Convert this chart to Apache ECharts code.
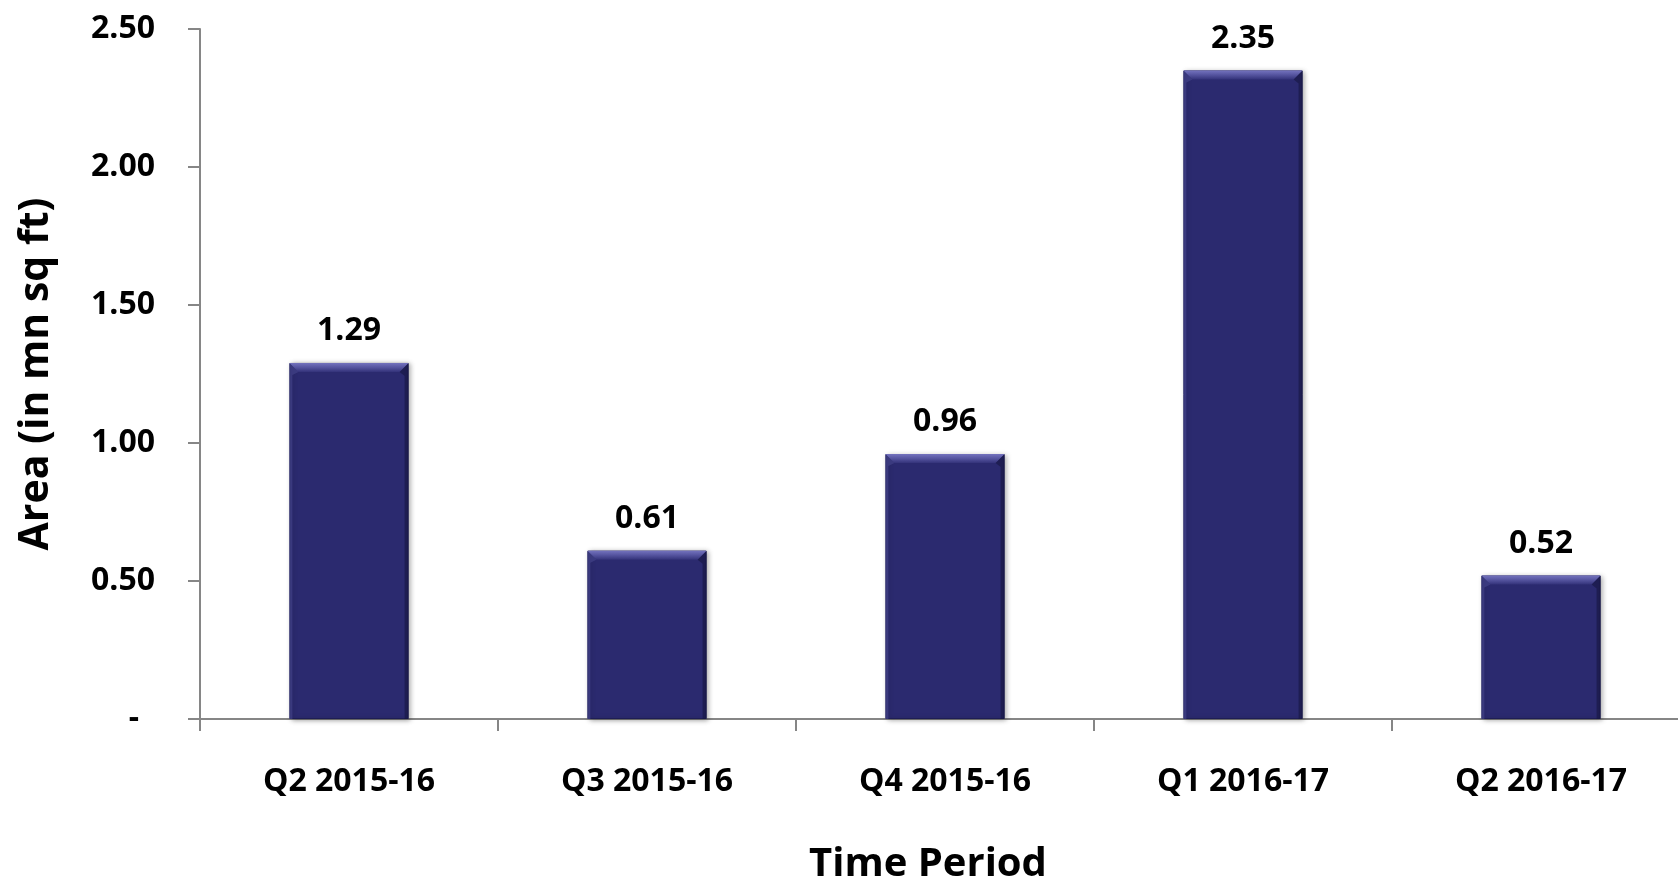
<!DOCTYPE html>
<html>
<head>
<meta charset="utf-8">
<script src="https://cdn.jsdelivr.net/npm/echarts@6/dist/echarts.min.js"></script>
<style>
html,body{margin:0;padding:0;background:#fff;}
#chart{width:1678px;height:882px;}
</style>
</head>
<body>
<div id="chart"></div>
<script>
const categories = ['Q2 2015-16', 'Q3 2015-16', 'Q4 2015-16', 'Q1 2016-17', 'Q2 2016-17'];
const areaValues = [1.29, 0.61, 0.96, 2.35, 0.52];
const yTicks = { min: 0, max: 2.5, interval: 0.5 };
const xTitle = 'Time Period';
const yTitle = 'Area (in mn sq ft)';

const FONT = 'Open Sans';
const BAR_COLOR = '#2B2A6F';
const chart = echarts.init(document.getElementById('chart'));

function renderBevel(params, api) {
  const idx = api.value(0), v = api.value(1);
  const top = api.coord([idx, v]);
  const bot = api.coord([idx, 0]);
  const bw = api.size([1, 0])[0] * 0.4;
  const l = top[0] - bw / 2, r = top[0] + bw / 2, y0 = top[1], y1 = bot[1];
  const h = 9;
  return {
    type: 'group',
    children: [
      { type: 'polygon', shape: { points: [[l, y0], [r, y0], [r - h, y0 + h], [l + h, y0 + h]] },
        style: { fill: new echarts.graphic.LinearGradient(0, 0, 0, 1, [
          { offset: 0, color: '#7473BE' }, { offset: 0.5, color: '#55549F' }, { offset: 1, color: '#34337A' }]) } },
      { type: 'polygon', shape: { points: [[l, y0], [l + h, y0 + h], [l + 3, y0 + h + 3], [l + 3, y1], [l, y1]] },
        style: { fill: 'rgba(70,70,140,0.6)' } },
      { type: 'polygon', shape: { points: [[r, y0], [r - h, y0 + h], [r - 4, y0 + h + 4], [r - 4, y1], [r, y1]] },
        style: { fill: 'rgba(20,20,60,0.55)' } }
    ]
  };
}

chart.setOption({
  animation: false,
  backgroundColor: '#ffffff',
  grid: { left: 200, top: 29, width: 1490, height: 690, containLabel: false, outerBoundsMode: 'none' },
  xAxis: {
    type: 'category',
    data: categories,
    boundaryGap: true,
    axisLine: { lineStyle: { color: '#868686', width: 2 } },
    axisTick: { show: true, length: 12, lineStyle: { color: '#868686', width: 2 } },
    axisLabel: { color: '#000', fontFamily: FONT, fontWeight: 'bold', fontSize: 32, margin: 47 },
    name: xTitle,
    nameLocation: 'middle',
    nameGap: 126,
    nameTextStyle: { color: '#000', fontFamily: FONT, fontWeight: 'bold', fontSize: 40, padding: [0, 34, 0, 0] }
  },
  yAxis: {
    type: 'value',
    min: yTicks.min, max: yTicks.max, interval: yTicks.interval,
    splitLine: { show: false },
    axisLine: { show: true, lineStyle: { color: '#868686', width: 2 } },
    axisTick: { show: true, length: 12, lineStyle: { color: '#868686', width: 2 } },
    axisLabel: {
      color: '#000', fontFamily: FONT, fontWeight: 'bold', fontSize: 32, margin: 45,
      formatter: v => v === 0 ? '{z|-}' : v.toFixed(2),
      rich: { z: { color: '#000', fontFamily: FONT, fontWeight: 'bold', fontSize: 32, padding: [0, 16, 0, 0] } }
    },
    name: yTitle,
    nameLocation: 'middle',
    nameRotate: 90,
    nameGap: 143,
    nameTextStyle: { color: '#000', fontFamily: FONT, fontWeight: 'bold', fontSize: 41 }
  },
  series: [{
    type: 'bar',
    data: areaValues,
    barWidth: '40%',
    itemStyle: {
      color: BAR_COLOR,
      borderColor: '#1E1D55',
      borderWidth: 1,
      shadowBlur: 5,
      shadowColor: 'rgba(0,0,0,0.35)',
      shadowOffsetX: 2,
      shadowOffsetY: 1
    },
    label: {
      show: true, position: 'top', distance: 16,
      color: '#000', fontFamily: FONT, fontWeight: 'bold', fontSize: 32,
      formatter: p => p.value.toFixed(2)
    }
  }, {
    type: 'custom',
    silent: true,
    z: 3,
    data: areaValues.map((v, i) => [i, v]),
    renderItem: renderBevel
  }]
});
</script>
</body>
</html>
